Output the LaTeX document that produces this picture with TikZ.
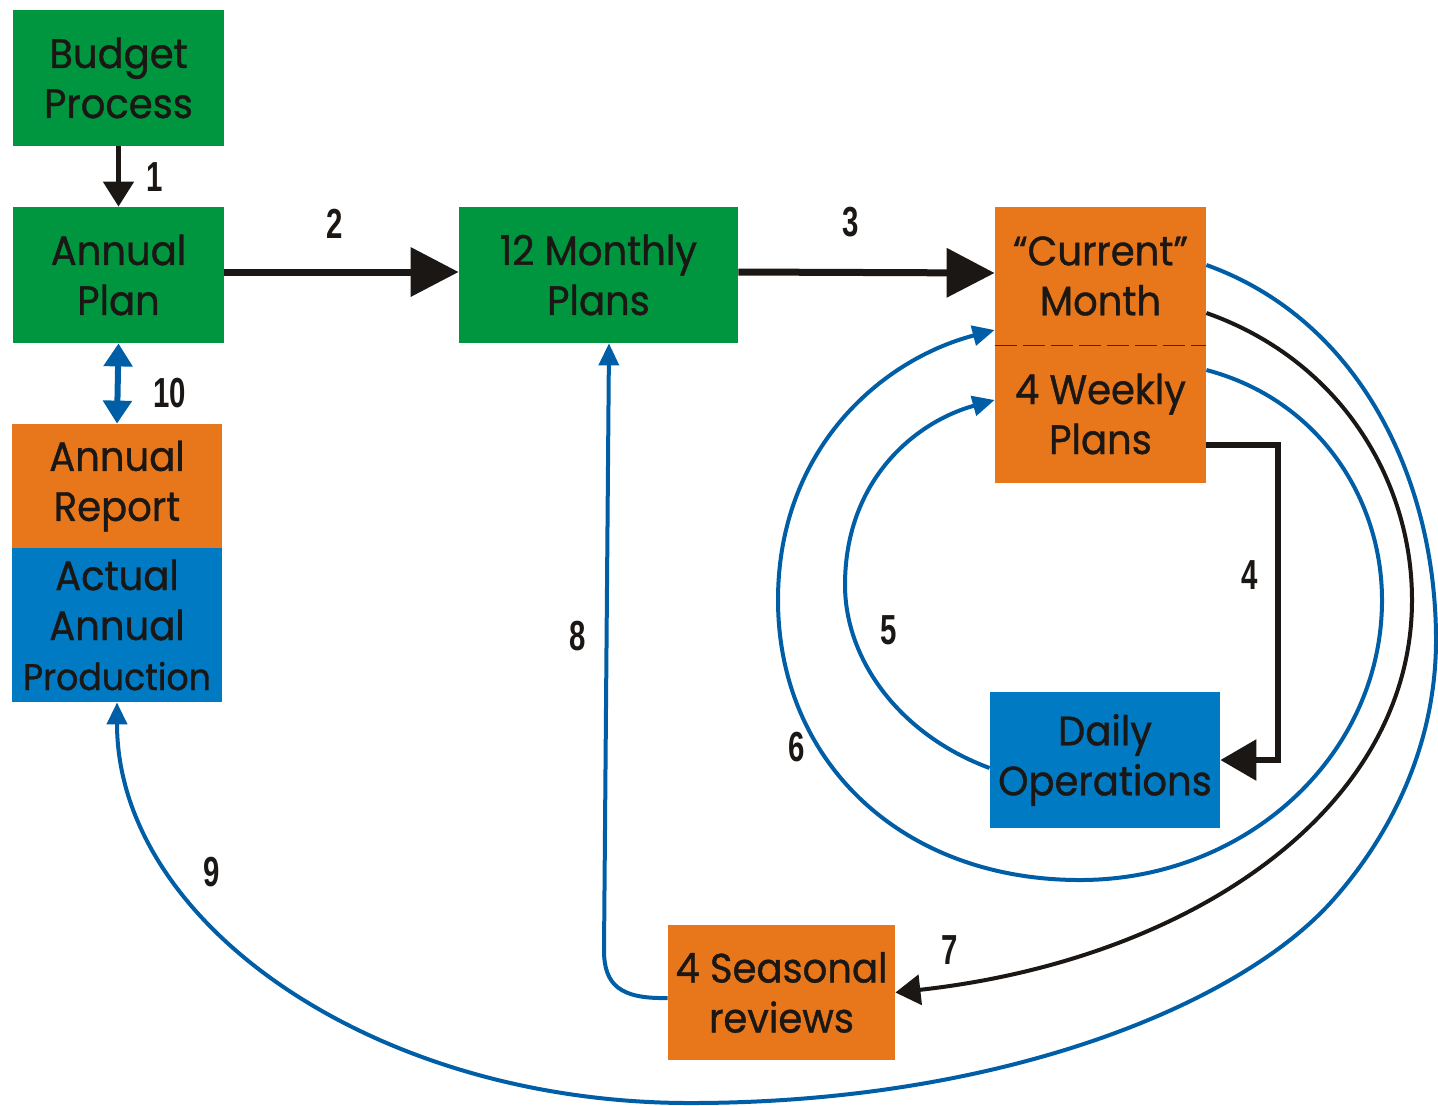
\documentclass[tikz,border=0pt]{standalone}
\usepackage{fontspec}
\setmainfont{Poppins}[UprightFeatures={FakeBold=0.9}, FakeStretch=0.94]
\newfontfamily\numfont[FakeStretch=0.7]{Liberation Sans}
\usetikzlibrary{arrows.meta,calc}
\definecolor{boxgreen}{RGB}{0,150,64}
\definecolor{boxorange}{RGB}{232,119,28}
\definecolor{boxblue}{RGB}{0,122,194}
\definecolor{lineblue}{RGB}{0,94,166}
\definecolor{txt}{RGB}{26,23,20}
\tikzset{
  box/.style={rectangle, inner sep=0pt, align=center, text=txt,
    font=\fontsize{20.5}{25}\selectfont},
  lbl/.style={text=txt, inner sep=0pt, font=\numfont\bfseries\fontsize{21}{21}\selectfont},
  bigarrow/.style={draw=txt, line width=3.5pt, -{Triangle[length=24pt,width=24pt]}},
  smallarrow/.style={draw=txt, line width=2.5pt, -{Triangle[length=12.5pt,width=15pt]}},
  elbowarrow/.style={draw=txt, line width=3pt, -{Triangle[length=18pt,width=20pt]}},
  curvearrow/.style={draw=txt, line width=2pt, -{Triangle[length=12.5pt,width=15pt]}},
  bluearrow/.style={draw=lineblue, line width=2pt, -{Triangle[length=11pt,width=10pt]}},
  dblarrow/.style={draw=lineblue, line width=3pt, {Triangle[length=11.5pt,width=14pt]}-{Triangle[length=11.5pt,width=14pt]}},
}
\begin{document}
\begin{tikzpicture}[x=0.5pt,y=-0.5pt]
\useasboundingbox (0,0) rectangle (1438,1105);
\fill[white] (0,0) rectangle (1438,1105);

% boxes
\node[box, fill=boxgreen, minimum width=105.5pt, minimum height=68pt] (bud) at (118.5,78) {Budget\\Process};
\node[box, fill=boxgreen, minimum width=105.5pt, minimum height=68pt] (ann) at (118.5,275) {Annual\\Plan};
\node[box, fill=boxgreen, minimum width=139.5pt, minimum height=68pt] (mon) at (598.5,275) {12 Monthly\\Plans};
\node[box, fill=boxorange, minimum width=105.5pt, minimum height=69pt] (cur) at (1100.5,276) {“Current”\\Month};
\node[box, fill=boxorange, minimum width=105.5pt, minimum height=69pt] (wk) at (1100.5,414) {4 Weekly\\Plans};
\draw[draw=txt!80!boxorange, line width=0.8pt, dash pattern=on 11pt off 3pt] (cur.south west) -- (cur.south east);
\node[box, fill=boxorange, minimum width=105pt, minimum height=62pt] (rep) at (117,486) {Annual\\Report};
\node[box, fill=boxblue, minimum width=105pt, minimum height=77pt] (prod) at (117,625) {Actual\\Annual\\{\fontsize{18.5}{25}\selectfont Production}};
\node[box, fill=boxblue, minimum width=115pt, minimum height=68pt] (daily) at (1105,760) {Daily\\Operations};
\node[box, fill=boxorange, minimum width=113.5pt, minimum height=67.5pt] (seas) at (781.5,992.5) {4 Seasonal\\reviews};

% black connectors
\draw[smallarrow] (bud.south) -- (ann.north);
\draw[bigarrow] ([yshift=1.5pt]ann.east) -- ([yshift=1.5pt]mon.west);
\draw[bigarrow] ([yshift=1.5pt]mon.east) -- ([yshift=1.5pt]cur.west);
\draw[elbowarrow] ([yshift=-15.5pt]wk.east) -- (1278,445) -- (1278,760) -- (daily.east);
\draw[curvearrow] ([yshift=-18.5pt]cur.east) .. controls (1340,360) and (1412,480) .. (1412,600)
   .. controls (1412,810) and (1190,960) .. (seas.east);

% blue connectors
\draw[bluearrow] ([yshift=-4pt]daily.west) .. controls (900,735) and (845,660) .. (845,585)
   .. controls (845,480) and (915,422) .. ([yshift=7pt]wk.west);
\draw[bluearrow] ([yshift=22pt]wk.east) .. controls (1320,400) and (1382,500) .. (1382,600)
   .. controls (1382,755) and (1247,880) .. (1080,880)
   .. controls (900,880) and (778,760) .. (778,600)
   .. controls (778,450) and (880,360) .. ([yshift=-27pt]cur.west);
\draw[bluearrow] ([yshift=-2.75pt]seas.west) .. controls (620,999) and (604,985) .. (604,950) -- ([xshift=5.25pt]mon.south);
\draw[bluearrow] ([yshift=5.5pt]cur.east) .. controls (1360,320) and (1436,480) .. (1436,640)
   .. controls (1436,740) and (1395,830) .. (1333,900)
   .. controls (1240,1005) and (1000,1103) .. (690,1103)
   .. controls (374,1103) and (117,923) .. (prod.south);
\draw[dblarrow] (ann.south) -- (rep.north);

% labels
\node[lbl] (l1) at (155,177) {1};
\node[lbl] (l2) at (335,224) {2};
\node[lbl] (l3) at (851,222) {3};
\node[lbl] (l4) at (1250,575) {4};
\node[lbl] (l5) at (889,630) {5};
\node[lbl] (l6) at (797,747) {6};
\node[lbl] (l7) at (950,950) {7};
\node[lbl] (l8) at (578,636) {8};
\node[lbl] (l9) at (212,872) {9};
\node[lbl] (l10) at (170,393) {10};
\end{tikzpicture}
\end{document}
